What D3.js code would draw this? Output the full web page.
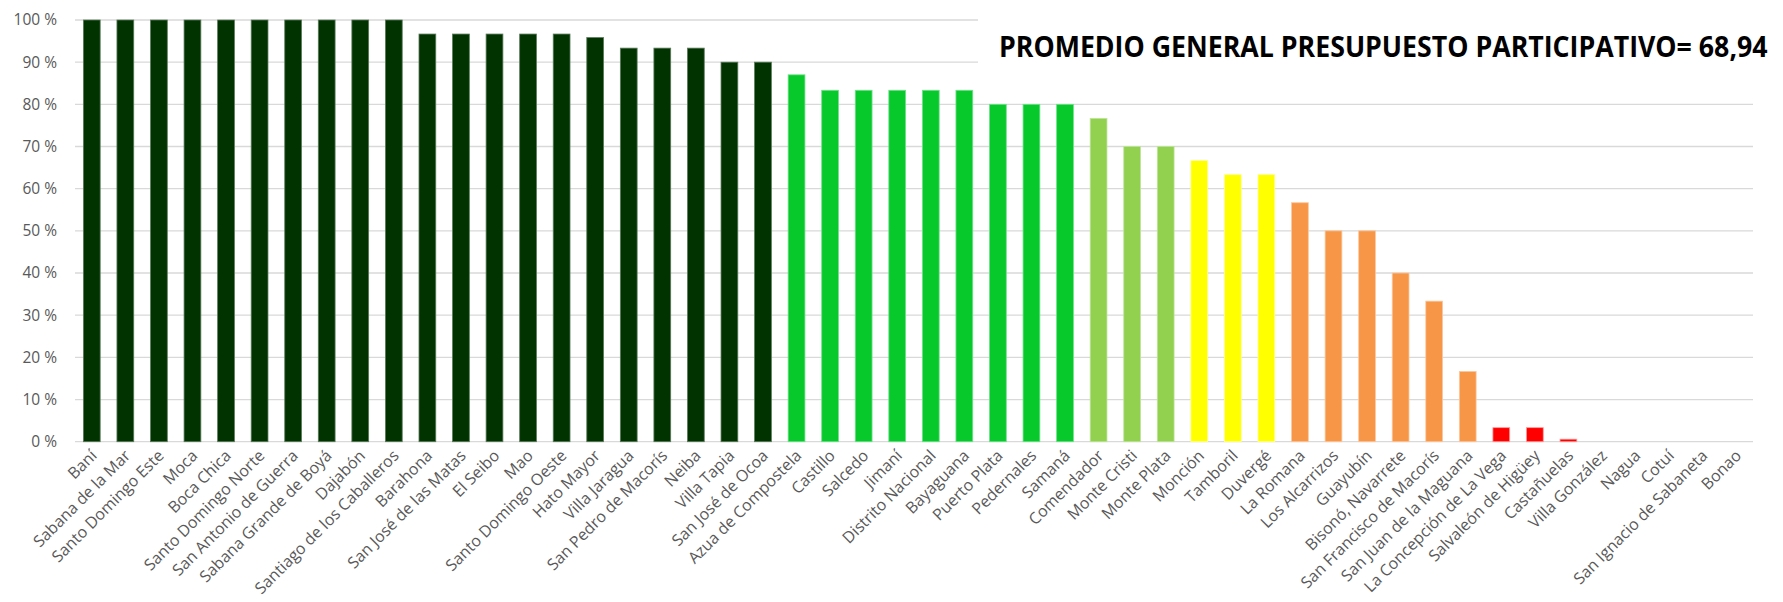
<!DOCTYPE html>
<html>
<head>
<meta charset="utf-8">
<script src="https://cdn.jsdelivr.net/npm/d3@7"></script>
<style>
  html, body { margin: 0; padding: 0; background: #fff; }
  svg { display: block; }
</style>
</head>
<body>
<svg id="chart" width="1783" height="602"></svg>
<script>
const categories = [
  "Baní", "Sabana de la Mar", "Santo Domingo Este", "Moca", "Boca Chica",
  "Santo Domingo Norte", "San Antonio de Guerra", "Sabana Grande de Boyá", "Dajabón", "Santiago de los Caballeros",
  "Barahona", "San José de las Matas", "El Seibo", "Mao", "Santo Domingo Oeste",
  "Hato Mayor", "Villa Jaragua", "San Pedro de Macorís", "Neiba", "Villa Tapia",
  "San José de Ocoa", "Azua de Compostela", "Castillo", "Salcedo", "Jimaní",
  "Distrito Nacional", "Bayaguana", "Puerto Plata", "Pedernales", "Samaná",
  "Comendador", "Monte Cristi", "Monte Plata", "Monción", "Tamboril",
  "Duvergé", "La Romana", "Los Alcarrizos", "Guayubín", "Bisonó, Navarrete",
  "San Francisco de Macorís", "San Juan de la Maguana", "La Concepción de La Vega", "Salvaleón de Higüey", "Castañuelas",
  "Villa González", "Nagua", "Cotuí", "San Ignacio de Sabaneta", "Bonao"
];
const values = [
  100, 100, 100, 100, 100,
  100, 100, 100, 100, 100,
  96.67, 96.67, 96.67, 96.67, 96.67,
  95.83, 93.33, 93.33, 93.33, 90,
  90, 87, 83.33, 83.33, 83.33,
  83.33, 83.33, 80, 80, 80,
  76.67, 70, 70, 66.67, 63.33,
  63.33, 56.67, 50, 50, 40,
  33.33, 16.67, 3.33, 3.33, 0.6,
  0, 0, 0, 0, 0
];
// colour group of each bar (index into groupColors)
const colorGroups = [
  0,0,0,0,0, 0,0,0,0,0,
  0,0,0,0,0, 0,0,0,0,0,
  0,1,1,1,1, 1,1,1,1,1,
  2,2,2,3,3, 3,4,4,4,4,
  4,4,5,5,5, 5,5,5,5,5
];
const groupColors = ["#003300", "#08C92B", "#92D050", "#FFFF00", "#F79646", "#FF0000"];
const groupStrokes = ["#5a7a5a", "#6fe08a", "#bfe49a", "#ffff99", "#fbc8a0", "#ff9a9a"];
const yTicks = [0, 10, 20, 30, 40, 50, 60, 70, 80, 90, 100];
const titleText = "PROMEDIO GENERAL PRESUPUESTO PARTICIPATIVO= 68,94";

const svg = d3.select("#chart");
const mLeft = 75, mRight = 1753, mTop = 20, mBottom = 441.7;
const labelFont = "'Open Sans', sans-serif";

const x = d3.scaleBand().domain(categories).range([mLeft, mRight]).paddingInner(0.5).paddingOuter(0.25);
const y = d3.scaleLinear().domain([0, 100]).range([mBottom, mTop]);

// gridlines
svg.append("g").selectAll("line").data(yTicks).join("line")
  .attr("x1", mLeft).attr("x2", mRight)
  .attr("y1", d => y(d)).attr("y2", d => y(d))
  .attr("stroke", "#d9d9d9").attr("stroke-width", 1.3);

// y tick labels
const yAxis = d3.axisLeft(y).tickValues(yTicks).tickSize(0).tickPadding(0).tickFormat(d => d + " %");
const yg = svg.append("g").attr("transform", `translate(${mLeft - 18},0)`).call(yAxis);
yg.select(".domain").remove();
yg.selectAll("text")
  .attr("fill", "#595959")
  .style("font-family", labelFont)
  .style("font-size", "15.5px");

// bars
const data = categories.map((c, i) => ({ c, v: values[i], g: colorGroups[i] }));
svg.append("g").selectAll("rect").data(data.filter(d => d.v > 0)).join("rect")
  .attr("x", d => x(d.c))
  .attr("width", x.bandwidth())
  .attr("y", d => y(d.v))
  .attr("height", d => y(0) - y(d.v))
  .attr("fill", d => groupColors[d.g])
  .attr("stroke", d => groupStrokes[d.g])
  .attr("stroke-width", 0.8);

// x labels
const xAxis = d3.axisBottom(x).tickSize(0).tickPadding(0);
const xg = svg.append("g").attr("transform", `translate(0,${mBottom})`).call(xAxis);
xg.select(".domain").remove();
xg.selectAll("text")
  .attr("fill", "#595959")
  .style("font-family", labelFont)
  .style("font-size", "16px")
  .attr("text-anchor", "end")
  .attr("dy", null)
  .attr("y", 0)
  .attr("transform", "translate(6,15) rotate(-45)");

// title with white background
svg.append("rect").attr("x", 978).attr("y", 8).attr("width", 805).attr("height", 80).attr("fill", "#fff");
const title = svg.append("text")
  .attr("x", 0).attr("y", 0)
  .style("font-family", labelFont)
  .style("font-weight", "bold")
  .style("font-size", "28px")
  .attr("fill", "#000")
  .text(titleText);
const natural = title.node().getComputedTextLength();
title.attr("transform", `translate(999,57) scale(${769 / natural},1)`);
</script>
</body>
</html>
